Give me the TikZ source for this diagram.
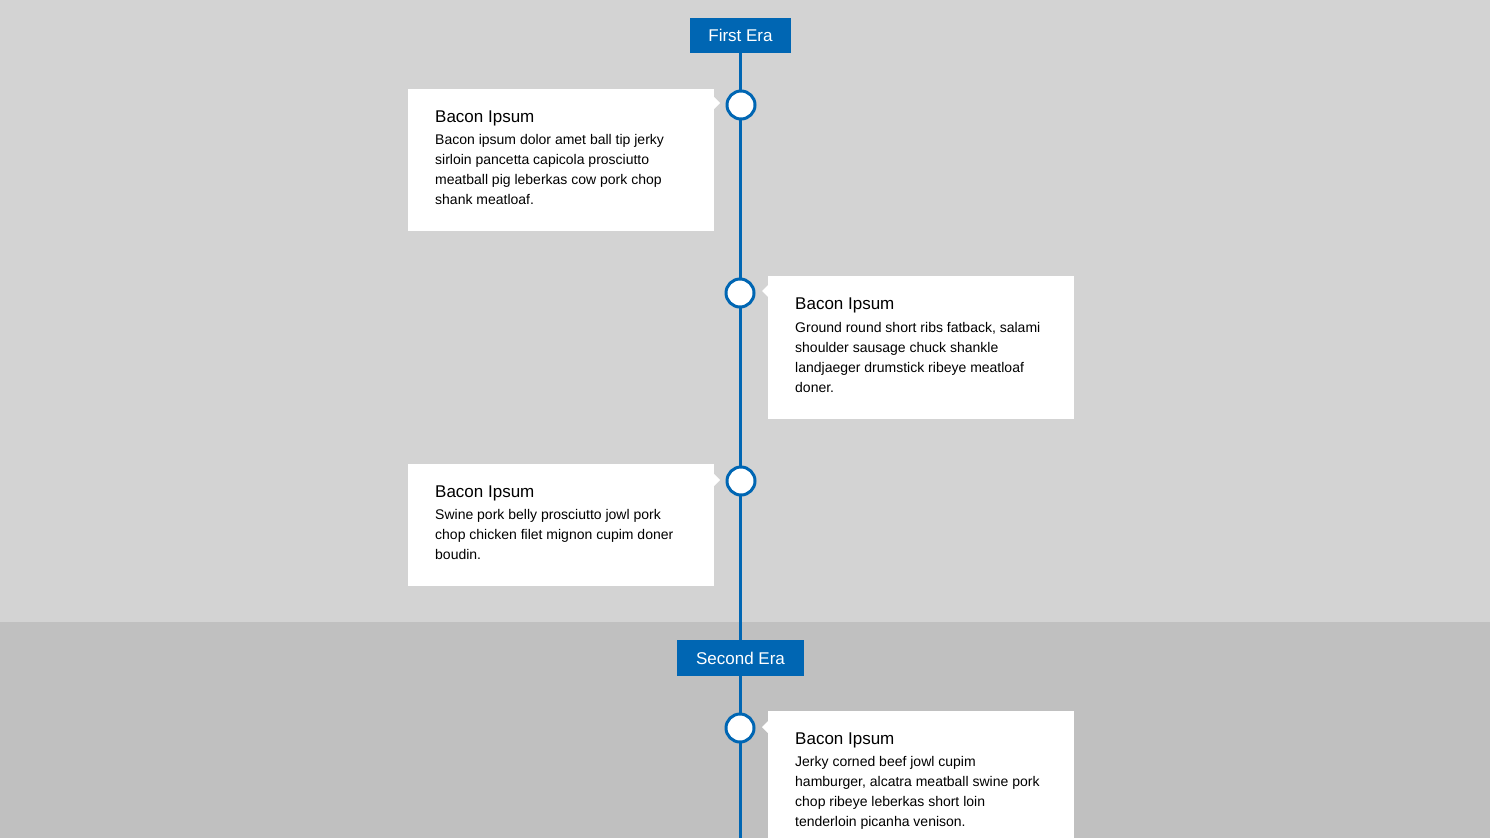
\documentclass[tikz,border=0pt]{standalone}
\usepackage{fontspec}
\setmainfont{Liberation Sans}
\definecolor{bgA}{HTML}{D3D3D3}
\definecolor{bgB}{HTML}{C0C0C0}
\definecolor{tlblue}{HTML}{0066B3}
\begin{document}
\begin{tikzpicture}[x=1pt,y=-1pt,
  era/.style={fill=tlblue,text=white,font=\fontsize{17}{20}\selectfont,inner sep=0pt,anchor=center},
  dot/.style={circle,draw=tlblue,line width=3pt,fill=white,minimum size=28pt,inner sep=0pt},
  card/.style={fill=white,draw=none},
  ttl/.style={anchor=base west,font=\fontsize{17}{20}\selectfont,inner sep=0pt},
  body/.style={anchor=north west,font=\fontsize{14}{20}\selectfont,inner sep=0pt,align=left}]
\useasboundingbox (0,0) rectangle (1490,838);
\fill[bgA] (0,0) rectangle (1490,622);
\fill[bgB] (0,622) rectangle (1490,838);
\coordinate (top) at (740.5,53);
\coordinate (bot) at (740.5,838);
\draw[tlblue,line width=3pt] (top) -- (bot);
\node[era,minimum width=101pt,minimum height=35pt] (e1) at (740.5,35.5) {First Era};
\node[era,minimum width=127pt,minimum height=36pt] (e2) at (740.5,658) {Second Era};
% cards
\fill[card] (408,89) rectangle (714,231);
\fill[card] (714,97) -- (720,103) -- (714,109) -- cycle;
\fill[card] (768,276) rectangle (1074,419);
\fill[card] (768,285) -- (762,291) -- (768,297) -- cycle;
\fill[card] (408,464) rectangle (714,586);
\fill[card] (714,474) -- (720,480) -- (714,486) -- cycle;
\fill[card] (768,711) rectangle (1074,850);
\fill[card] (768,721) -- (762,727) -- (768,733) -- cycle;
\node[dot] (d1) at (741,105) {};
\node[dot] (d2) at (740,293) {};
\node[dot] (d3) at (741,481) {};
\node[dot] (d4) at (740,728) {};
\node[ttl] (t1) at (435,122) {Bacon Ipsum};
\node[body] (b1) at (435,134) {Bacon ipsum dolor amet ball tip jerky\\sirloin pancetta capicola prosciutto\\meatball pig leberkas cow pork chop\\shank meatloaf.};
\node[ttl] (t2) at (795,309) {Bacon Ipsum};
\node[body] (b2) at (795,322) {Ground round short ribs fatback, salami\\shoulder sausage chuck shankle\\landjaeger drumstick ribeye meatloaf\\doner.};
\node[ttl] (t3) at (435,497) {Bacon Ipsum};
\node[body] (b3) at (435,509) {Swine pork belly prosciutto jowl pork\\chop chicken filet mignon cupim doner\\boudin.};
\node[ttl] (t4) at (795,744) {Bacon Ipsum};
\node[body] (b4) at (795,756) {Jerky corned beef jowl cupim\\hamburger, alcatra meatball swine pork\\chop ribeye leberkas short loin\\tenderloin picanha venison.};
\end{tikzpicture}
\end{document}
